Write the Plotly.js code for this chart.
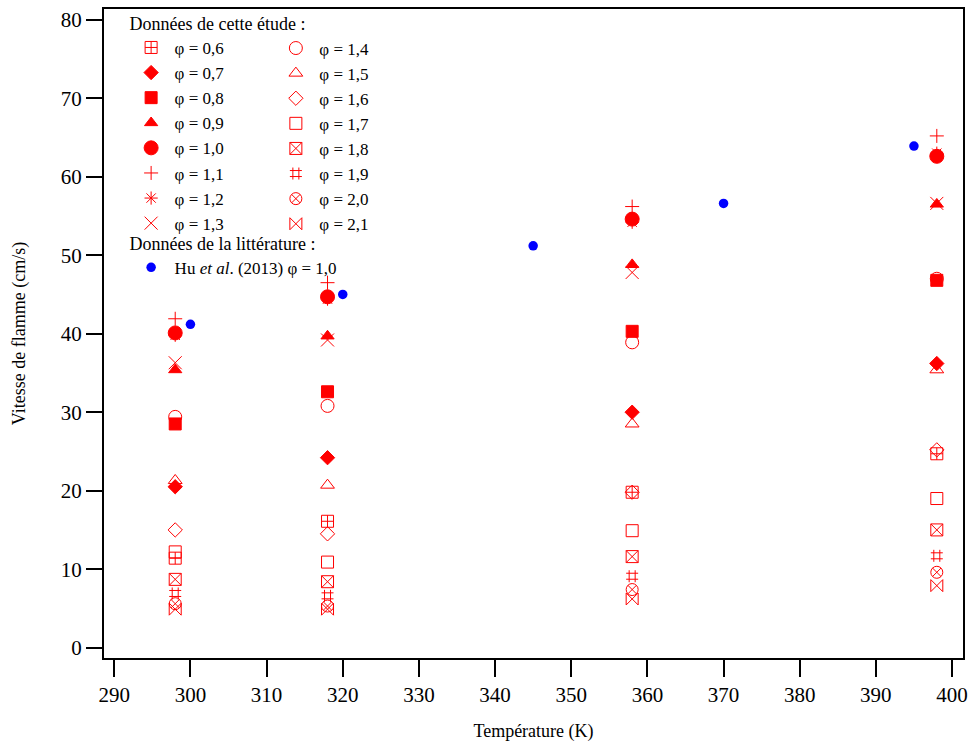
<!DOCTYPE html>
<html>
<head>
<meta charset="utf-8">
<script src="https://cdn.plot.ly/plotly-3.0.1.min.js"></script>
<style>html,body{margin:0;padding:0;background:#fff;}#chart{width:971px;height:742px;}</style>
</head>
<body>
<div id="chart"></div>
<script>
// Temperatures of this study (K)
const temps = [298, 318, 358, 398];
// Flame speeds (cm/s) for each equivalence ratio
const phiLabels = ["0,6","0,7","0,8","0,9","1,0","1,1","1,2","1,3","1,4","1,5","1,6","1,7","1,8","1,9","2,0","2,1"];
const s06 = [11.4, 16.1, 19.8, 24.7];
const s07 = [20.5, 24.2, 30.0, 36.2];
const s08 = [28.5, 32.6, 40.3, 46.8];
const s09 = [35.4, 39.7, 48.8, 56.5];
const s10 = [40.1, 44.7, 54.6, 62.6];
const s11 = [41.9, 46.5, 56.2, 65.2];
const s12 = [39.8, 44.4, 54.2, 63.0];
const s13 = [36.3, 39.2, 47.8, 56.6];
const s14 = [29.4, 30.8, 38.9, 47.0];
const s15 = [21.3, 20.7, 28.5, 35.4];
const s16 = [15.0, 14.5, 19.8, 25.2];
const s17 = [12.2, 10.9, 14.9, 19.0];
const s18 = [8.7, 8.4, 11.6, 15.0];
const s19 = [6.9, 6.6, 9.1, 11.7];
const s20 = [5.6, 5.3, 7.4, 9.6];
const s21 = [4.9, 4.9, 6.2, 7.9];
// Literature: Hu et al. (2013), phi = 1.0
const huT = [300, 320, 345, 370, 395];
const huS = [41.2, 45.0, 51.2, 56.6, 63.9];

const series = [s06,s07,s08,s09,s10,s11,s12,s13,s14,s15,s16,s17,s18,s19,s20,s21];
const symbols = ["square-cross-open","diamond","square","triangle-up","circle","cross-thin-open","asterisk-open","x-thin-open",
                 "circle-open","triangle-up-open","diamond-open","square-open","square-x-open","hash-open","circle-x-open","bowtie-open"];
const sizes = [12,11,12,11.5,14,10,11,13,13,12,11,12,12,12,12,12];

const RED = "rgb(255,0,0)";
const FONT = "Liberation Serif, Times New Roman, serif";

const traces = series.map((ys, i) => ({
  type: "scatter", mode: "markers",
  x: temps, y: ys,
  name: "φ = " + phiLabels[i],
  legend: i < 8 ? "legend" : "legend2",
  marker: {symbol: symbols[i], size: sizes[i], color: RED, line: {color: RED, width: 1}}
}));
traces.push({
  type: "scatter", mode: "markers", x: huT, y: huS,
  name: "Hu <i>et al</i>. (2013) φ = 1,0",
  legend: "legend3",
  marker: {symbol: "circle", size: 9.5, color: "rgb(0,0,255)"}
});

const legFont = {family: FONT, size: 17, color: "#000"};
const legTitleFont = {family: FONT, size: 18, color: "#000"};
const layout = {
  width: 971, height: 742,
  margin: {l: 104, r: 8, t: 7.5, b: 84.3},
  paper_bgcolor: "#fff", plot_bgcolor: "#fff",
  font: {family: FONT, color: "#000"},
  showlegend: true,
  xaxis: {
    range: [288.65, 401.44], tickvals: [290,300,310,320,330,340,350,360,370,380,390,400],
    ticks: "outside", ticklen: 17, tickwidth: 2, tickcolor: "#000",
    showline: true, linewidth: 2, linecolor: "#000", mirror: true,
    showgrid: false, zeroline: false,
    tickfont: {family: FONT, size: 21, color: "#000"},
    title: {text: "Température (K)", font: {family: FONT, size: 18, color: "#000"}, standoff: 18}
  },
  yaxis: {
    range: [-1.32, 81.37], tickvals: [0,10,20,30,40,50,60,70,80],
    ticks: "outside", ticklen: 16, tickwidth: 2, tickcolor: "#000",
    showline: true, linewidth: 2, linecolor: "#000", mirror: true,
    showgrid: false, zeroline: false,
    tickfont: {family: FONT, size: 21, color: "#000"},
    title: {text: "Vitesse de flamme (cm/s)", font: {family: FONT, size: 18, color: "#000"}, standoff: 30}
  },
  legend: {x: 0.0275, y: 1.0023, xanchor: "left", yanchor: "top", bgcolor: "rgba(0,0,0,0)", itemwidth: 37,
           font: legFont, title: {text: "Données de cette étude :", font: legTitleFont}, tracegroupgap: 0},
  legend2: {x: 0.196, y: 0.9654, xanchor: "left", yanchor: "top", bgcolor: "rgba(0,0,0,0)", itemwidth: 37,
           font: legFont, tracegroupgap: 0},
  legend3: {x: 0.0275, y: 0.664, xanchor: "left", yanchor: "top", bgcolor: "rgba(0,0,0,0)", itemwidth: 37,
           font: legFont, title: {text: "Données de la littérature :", font: legTitleFont}}
};

Plotly.newPlot("chart", traces, layout, {displayModeBar: false, staticPlot: true});
</script>
</body>
</html>
